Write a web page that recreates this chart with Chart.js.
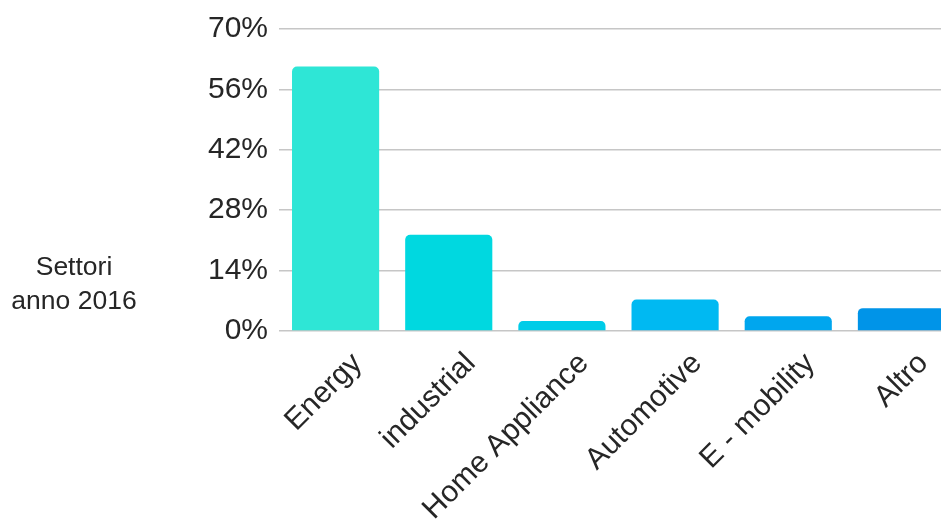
<!DOCTYPE html>
<html>
<head>
<meta charset="utf-8">
<script src="https://cdn.jsdelivr.net/npm/chart.js@4/dist/chart.umd.min.js"></script>
<style>
  html, body { margin: 0; padding: 0; background: #fff; overflow: hidden; }
  #wrap { position: relative; width: 958px; height: 529px; }
</style>
</head>
<body>
<div id="wrap"><canvas id="settori"></canvas></div>
<script>
// sectors, year 2016
var categories = ["Energy", "industrial", "Home Appliance", "Automotive", "E - mobility", "Altro"];
var shares = [61.3, 22.3, 2.3, 7.3, 3.4, 5.3];
var barColors = ["#2ee6d6", "#00d8e0", "#00cce8", "#00b9f2", "#00a6ee", "#0094e8"];
var yTicks = [0, 14, 28, 42, 56, 70];
var titleLines = ["Settori", "anno 2016"];

var FONT = "'Liberation Sans', Arial, sans-serif";

// horizontal axis title on the left
var sideTitle = {
  id: 'sideTitle',
  afterDraw: function (chart) {
    var ctx = chart.ctx;
    ctx.save();
    ctx.fillStyle = '#262626';
    ctx.font = '26.5px ' + FONT;
    ctx.textAlign = 'center';
    ctx.textBaseline = 'middle';
    titleLines.forEach(function (t, i) {
      ctx.fillText(t, 74, 268 + i * 34);
    });
    ctx.restore();
  }
};

var ctx = document.getElementById("settori").getContext('2d');
var chart = new Chart(ctx, {
  type: 'bar',
  data: {
    labels: categories,
    datasets: [{
      data: shares,
      backgroundColor: barColors,
      borderRadius: 5,
      borderSkipped: 'start',
      categoryPercentage: 1,
      barPercentage: 0.77
    }]
  },
  plugins: [sideTitle],
  options: {
    responsive: true,
    maintainAspectRatio: false,
    animation: false,
    layout: { padding: { top: 28, left: 0, right: 0, bottom: 0 } },
    plugins: {
      legend: { display: false },
      tooltip: { enabled: false }
    },
    scales: {
      x: {
        grid: { display: false },
        border: { display: false },
        ticks: {
          autoSkip: false,
          maxRotation: 45,
          minRotation: 45,
          labelOffset: 22,
          padding: 7,
          color: '#262626',
          font: { family: FONT, size: 30 }
        },
        afterFit: function (s) { s.height = 198; }
      },
      y: {
        min: 0,
        max: 70,
        afterBuildTicks: function (s) {
          s.ticks = yTicks.map(function (v) { return { value: v }; });
        },
        grid: { color: '#c6c6c6', lineWidth: 1.5, drawTicks: false },
        border: { display: false },
        ticks: {
          padding: 11,
          color: '#262626',
          font: { family: FONT, size: 30 },
          callback: function (v) { return v + '%'; }
        },
        afterFit: function (s) { s.width = 279; }
      }
    }
  }
});
</script>
</body>
</html>
